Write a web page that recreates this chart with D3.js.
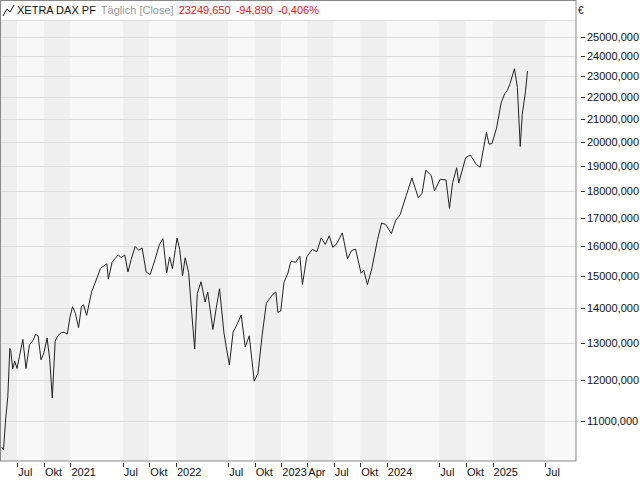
<!DOCTYPE html>
<html><head><meta charset="utf-8">
<script src="https://cdn.jsdelivr.net/npm/d3@7"></script>
<style>body{margin:0;background:#fff}svg{display:block}text{font-family:"Liberation Sans",Arial,sans-serif}</style>
</head><body><svg id="c" width="640" height="480"></svg>
<script>
const dates = ["2020-05-08","2020-05-14","2020-05-22","2020-05-29","2020-06-05","2020-06-08","2020-06-15","2020-06-22","2020-06-30","2020-07-08","2020-07-20","2020-07-31","2020-08-12","2020-08-24","2020-09-02","2020-09-11","2020-09-21","2020-10-01","2020-10-12","2020-10-21","2020-10-30","2020-11-09","2020-11-18","2020-11-30","2020-12-10","2020-12-21","2020-12-30",
"2021-01-08","2021-01-18","2021-01-29","2021-02-08","2021-02-15","2021-02-26","2021-03-15","2021-03-26","2021-04-15","2021-04-22","2021-05-07","2021-05-12","2021-05-25","2021-06-15","2021-06-25","2021-07-08","2021-07-19","2021-07-30","2021-08-13","2021-08-25","2021-09-06","2021-09-20","2021-10-04","2021-10-20","2021-11-05","2021-11-17","2021-11-30","2021-12-10","2021-12-20","2021-12-30",
"2022-01-05","2022-01-14","2022-01-24","2022-02-02","2022-02-14","2022-02-24","2022-03-07","2022-03-16","2022-03-29","2022-04-12","2022-04-21","2022-05-09","2022-05-20","2022-06-01","2022-06-16","2022-06-24","2022-07-05","2022-07-18","2022-07-29","2022-08-15","2022-08-29","2022-09-12","2022-09-29","2022-10-12","2022-10-27","2022-11-10","2022-11-30","2022-12-13","2022-12-20","2022-12-30",
"2023-01-10","2023-01-24","2023-02-03","2023-02-20","2023-03-06","2023-03-15","2023-03-30","2023-04-18","2023-05-04","2023-05-19","2023-06-02","2023-06-16","2023-06-28","2023-07-10","2023-07-31","2023-08-18","2023-09-01","2023-09-15","2023-10-04","2023-10-13","2023-10-26","2023-11-10","2023-11-30","2023-12-14","2023-12-28",
"2024-01-17","2024-02-01","2024-02-16","2024-03-08","2024-03-28","2024-04-19","2024-05-02","2024-05-15","2024-06-03","2024-06-14","2024-07-04","2024-07-24","2024-08-05","2024-08-16","2024-08-30","2024-09-06","2024-09-30","2024-10-16","2024-11-06","2024-11-19","2024-12-11","2024-12-20","2024-12-30",
"2025-01-15","2025-01-31","2025-02-12","2025-02-21","2025-03-03","2025-03-18","2025-03-28","2025-04-07","2025-04-14","2025-04-25","2025-05-02"];
const closes = [10400,10340,11070,11590,12850,12800,12300,12500,12310,12620,13100,12310,12950,13070,13240,13200,12540,12730,13140,12560,11560,13050,13200,13290,13300,13250,13720,
14050,13850,13430,14060,14110,13790,14500,14750,15250,15300,15400,14900,15450,15700,15600,15690,15130,15540,15980,15850,15930,15130,15050,15520,16050,16250,15100,15620,15240,15880,
16270,15880,15010,15600,15110,13950,12830,14450,14820,14190,14500,13380,13980,14600,13300,12900,12400,13310,13480,13800,12890,13200,11980,12180,13250,14150,14400,14500,13880,13920,
14800,15100,15480,15450,15650,14730,15630,15880,15800,16280,16050,16350,15950,16050,16450,15570,15840,15890,15090,15190,14730,15230,16220,16800,16750,
16430,16900,17100,17810,18500,17740,17900,18810,18600,18000,18450,18420,17340,18320,18910,18300,19320,19430,19040,18930,20400,19890,19910,
20580,21730,22150,22300,22650,23370,22460,19790,21200,22240,23250];
const ticks = [["2020-07-01","Jul"],["2020-10-01","Okt"],["2021-01-01","2021"],["2021-07-01","Jul"],["2021-10-01","Okt"],["2022-01-01","2022"],["2022-07-01","Jul"],["2022-10-01","Okt"],["2023-01-01","2023"],["2023-04-01","Apr"],["2023-07-01","Jul"],["2023-10-01","Okt"],["2024-01-01","2024"],["2024-07-01","Jul"],["2024-10-01","Okt"],["2025-01-01","2025"],["2025-07-01","Jul"]];
const yTicks = d3.range(11000,25001,1000);

const p = d3.timeParse("%Y-%m-%d");
const data = dates.map((d,i)=>({d:p(d),v:closes[i]}));
const L=0.5,R=576,T=0,B=461;
const x = d3.scaleTime().domain([p("2020-05-02"),p("2025-10-17")]).range([0,R]);
const y = d3.scaleLog().domain([10100,27070]).range([B,T]);
const svg = d3.select("#c");
const edges=[x.domain()[0],...ticks.map(t=>p(t[0])),x.domain()[1]];
for(let i=0;i<edges.length-1;i++){
  svg.append("rect").attr("x",x(edges[i])).attr("y",T).attr("width",x(edges[i+1])-x(edges[i])).attr("height",B-T)
   .attr("fill",i%2===0?"#efefef":"#f8f8f8");
}
svg.selectAll(".g").data(yTicks).enter().append("line").attr("x1",L).attr("x2",R)
 .attr("y1",d=>Math.round(y(d))+0.5).attr("y2",d=>Math.round(y(d))+0.5).attr("stroke","#dcdcdc");
svg.append("path").datum(data).attr("fill","none").attr("stroke","#222").attr("stroke-width",1)
 .attr("d",d3.line().x(d=>x(d.d)).y(d=>y(d.v)));
svg.append("rect").attr("x",0).attr("y",0).attr("width",R).attr("height",20).attr("fill","#fff");
svg.append("line").attr("x1",0).attr("x2",R).attr("y1",20.5).attr("y2",20.5).attr("stroke","#ddd");
svg.append("rect").attr("x",0.5).attr("y",0.5).attr("width",R-0.5).attr("height",B-0.5).attr("fill","none").attr("stroke","#888");
const h=svg.append("text").attr("x",17).attr("y",14).attr("font-size",11);
h.append("tspan").attr("fill","#111").text("XETRA DAX PF");
h.append("tspan").attr("fill","#999").attr("dx",5).text("Täglich [Close]");
h.append("tspan").attr("fill","#e0201c").attr("dx",5).text("23249,650");
h.append("tspan").attr("fill","#e0201c").attr("dx",5).text("-94,890");
h.append("tspan").attr("fill","#e0201c").attr("dx",5).text("-0,406%");
svg.append("path").attr("d","M3,16 L7,9 L10,12 L14,5").attr("fill","none").attr("stroke","#111");
const ya=svg.selectAll(".yt").data(yTicks).enter();
ya.append("line").attr("x1",581).attr("x2",585).attr("y1",d=>Math.round(y(d))+0.5).attr("y2",d=>Math.round(y(d))+0.5).attr("stroke","#333");
ya.append("text").attr("x",587).attr("y",d=>y(d)+4).attr("font-size",11).attr("fill","#111").text(d=>d+",000");
svg.append("text").attr("x",578).attr("y",14).attr("font-size",10).attr("fill","#111").text("€");
const xa=svg.selectAll(".xt").data(ticks).enter();
xa.append("line").attr("x1",d=>Math.round(x(p(d[0])))+0.5).attr("x2",d=>Math.round(x(p(d[0])))+0.5).attr("y1",B+2).attr("y2",B+6).attr("stroke","#333");
xa.append("text").attr("x",d=>x(p(d[0]))+1).attr("y",476).attr("font-size",11).attr("fill","#111").text(d=>d[1]);
</script></body></html>
